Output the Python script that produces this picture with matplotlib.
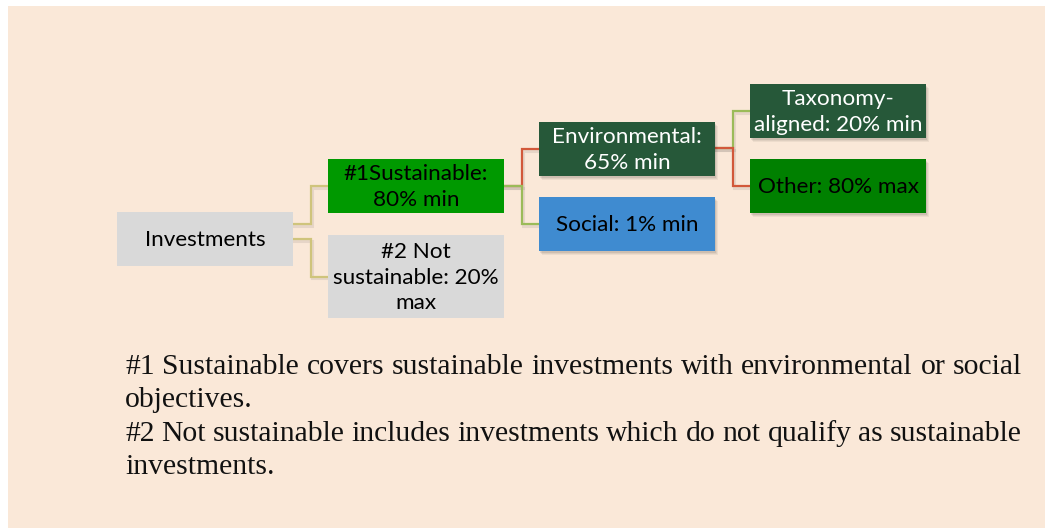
import matplotlib.pyplot as plt
from matplotlib.patches import Rectangle

# Tree nodes
labels = ["Investments", "#1Sustainable:\n80% min", "#2 Not\nsustainable: 20%\nmax",
          "Environmental:\n65% min", "Social: 1% min",
          "Taxonomy-\naligned: 20% min", "Other: 80% max"]
parents = [None, 0, 0, 1, 1, 3, 3]
levels = [0, 1, 1, 2, 2, 3, 3]
box_colors = ["#d9d9d9", "#009900", "#d9d9d9", "#265839", "#3f8bd0", "#265839", "#008000"]
text_colors = ["black", "black", "black", "white", "black", "white", "black"]
edge_colors = [None, "#cfc47c", "#cfc47c", "#d2583a", "#9bbb59", "#9bbb59", "#d2583a"]

footnote_lines = [
    "#1 Sustainable covers sustainable investments with environmental or social",
    "objectives.",
    "#2 Not sustainable includes investments which do not qualify as sustainable",
    "investments.",
]
justify = [True, False, True, False]

# layout (pixels)
col_x = [117, 328, 539, 750]
box_w = 176
y_center = [238.5, 186, 276.5, 149, 224, 111, 186]
box_h = [54, 54, 83, 54, 54, 54, 54]
exit_y = [None, 224, 239, 186, 186, 148, 148]
shadow = [False, False, False, True, True, True, True]

fig = plt.figure(figsize=(10.45, 5.28), dpi=100)
ax = fig.add_axes([0, 0, 1, 1])
ax.set_xlim(0, 1045)
ax.set_ylim(528, 0)
ax.axis("off")

ax.add_patch(Rectangle((8, 6), 1045, 530, facecolor="#fae8d8", edgecolor="none", zorder=0))

# connectors
for i, p in enumerate(parents):
    if p is None:
        continue
    x0 = col_x[levels[p]] + box_w
    x1 = col_x[levels[i]]
    xm = x0 + 18
    xs = [x0, xm, xm, x1]
    ys = [exit_y[i], exit_y[i], y_center[i], y_center[i]]
    ax.plot([x + 1 for x in xs], [y + 1.5 for y in ys], color="#000000", alpha=0.08, lw=2.2, zorder=1,
            solid_joinstyle="miter")
    ax.plot(xs, ys, color=edge_colors[i], lw=1.6, zorder=2, solid_joinstyle="miter")

# boxes
for i, lab in enumerate(labels):
    x = col_x[levels[i]]
    y = y_center[i] - box_h[i] / 2
    if shadow[i]:
        for k, a in enumerate([0.05, 0.06, 0.08]):
            off = 4 - k
            ax.add_patch(Rectangle((x + off - 1, y + off), box_w, box_h[i], facecolor="black",
                                   alpha=a, edgecolor="none", zorder=3))
    ax.add_patch(Rectangle((x, y), box_w, box_h[i], facecolor=box_colors[i], edgecolor="none", zorder=4))
    ax.text(x + box_w / 2, y_center[i] + 1, lab, ha="center", va="center", color=text_colors[i],
            fontsize=16.2, family="Lato", linespacing=1.35, zorder=5)

# footnote (justified)
fsize = 21.3
left, right = 125, 1022
line_y = [367, 400, 434, 467]
fig.canvas.draw()
renderer = fig.canvas.get_renderer()
for line, yy, j in zip(footnote_lines, line_y, justify):
    words = line.split(" ")
    objs = [ax.text(0, yy, w, ha="left", va="center", fontsize=fsize, family="Liberation Serif",
                    color="#111111") for w in words]
    widths = [t.get_window_extent(renderer).width for t in objs]
    if j and len(words) > 1:
        gap = (right - left - sum(widths)) / (len(words) - 1)
    else:
        gap = 5
    x = left
    for t, w in zip(objs, widths):
        t.set_x(x)
        x += w + gap

fig.savefig("out.png", dpi=100, facecolor="white")
